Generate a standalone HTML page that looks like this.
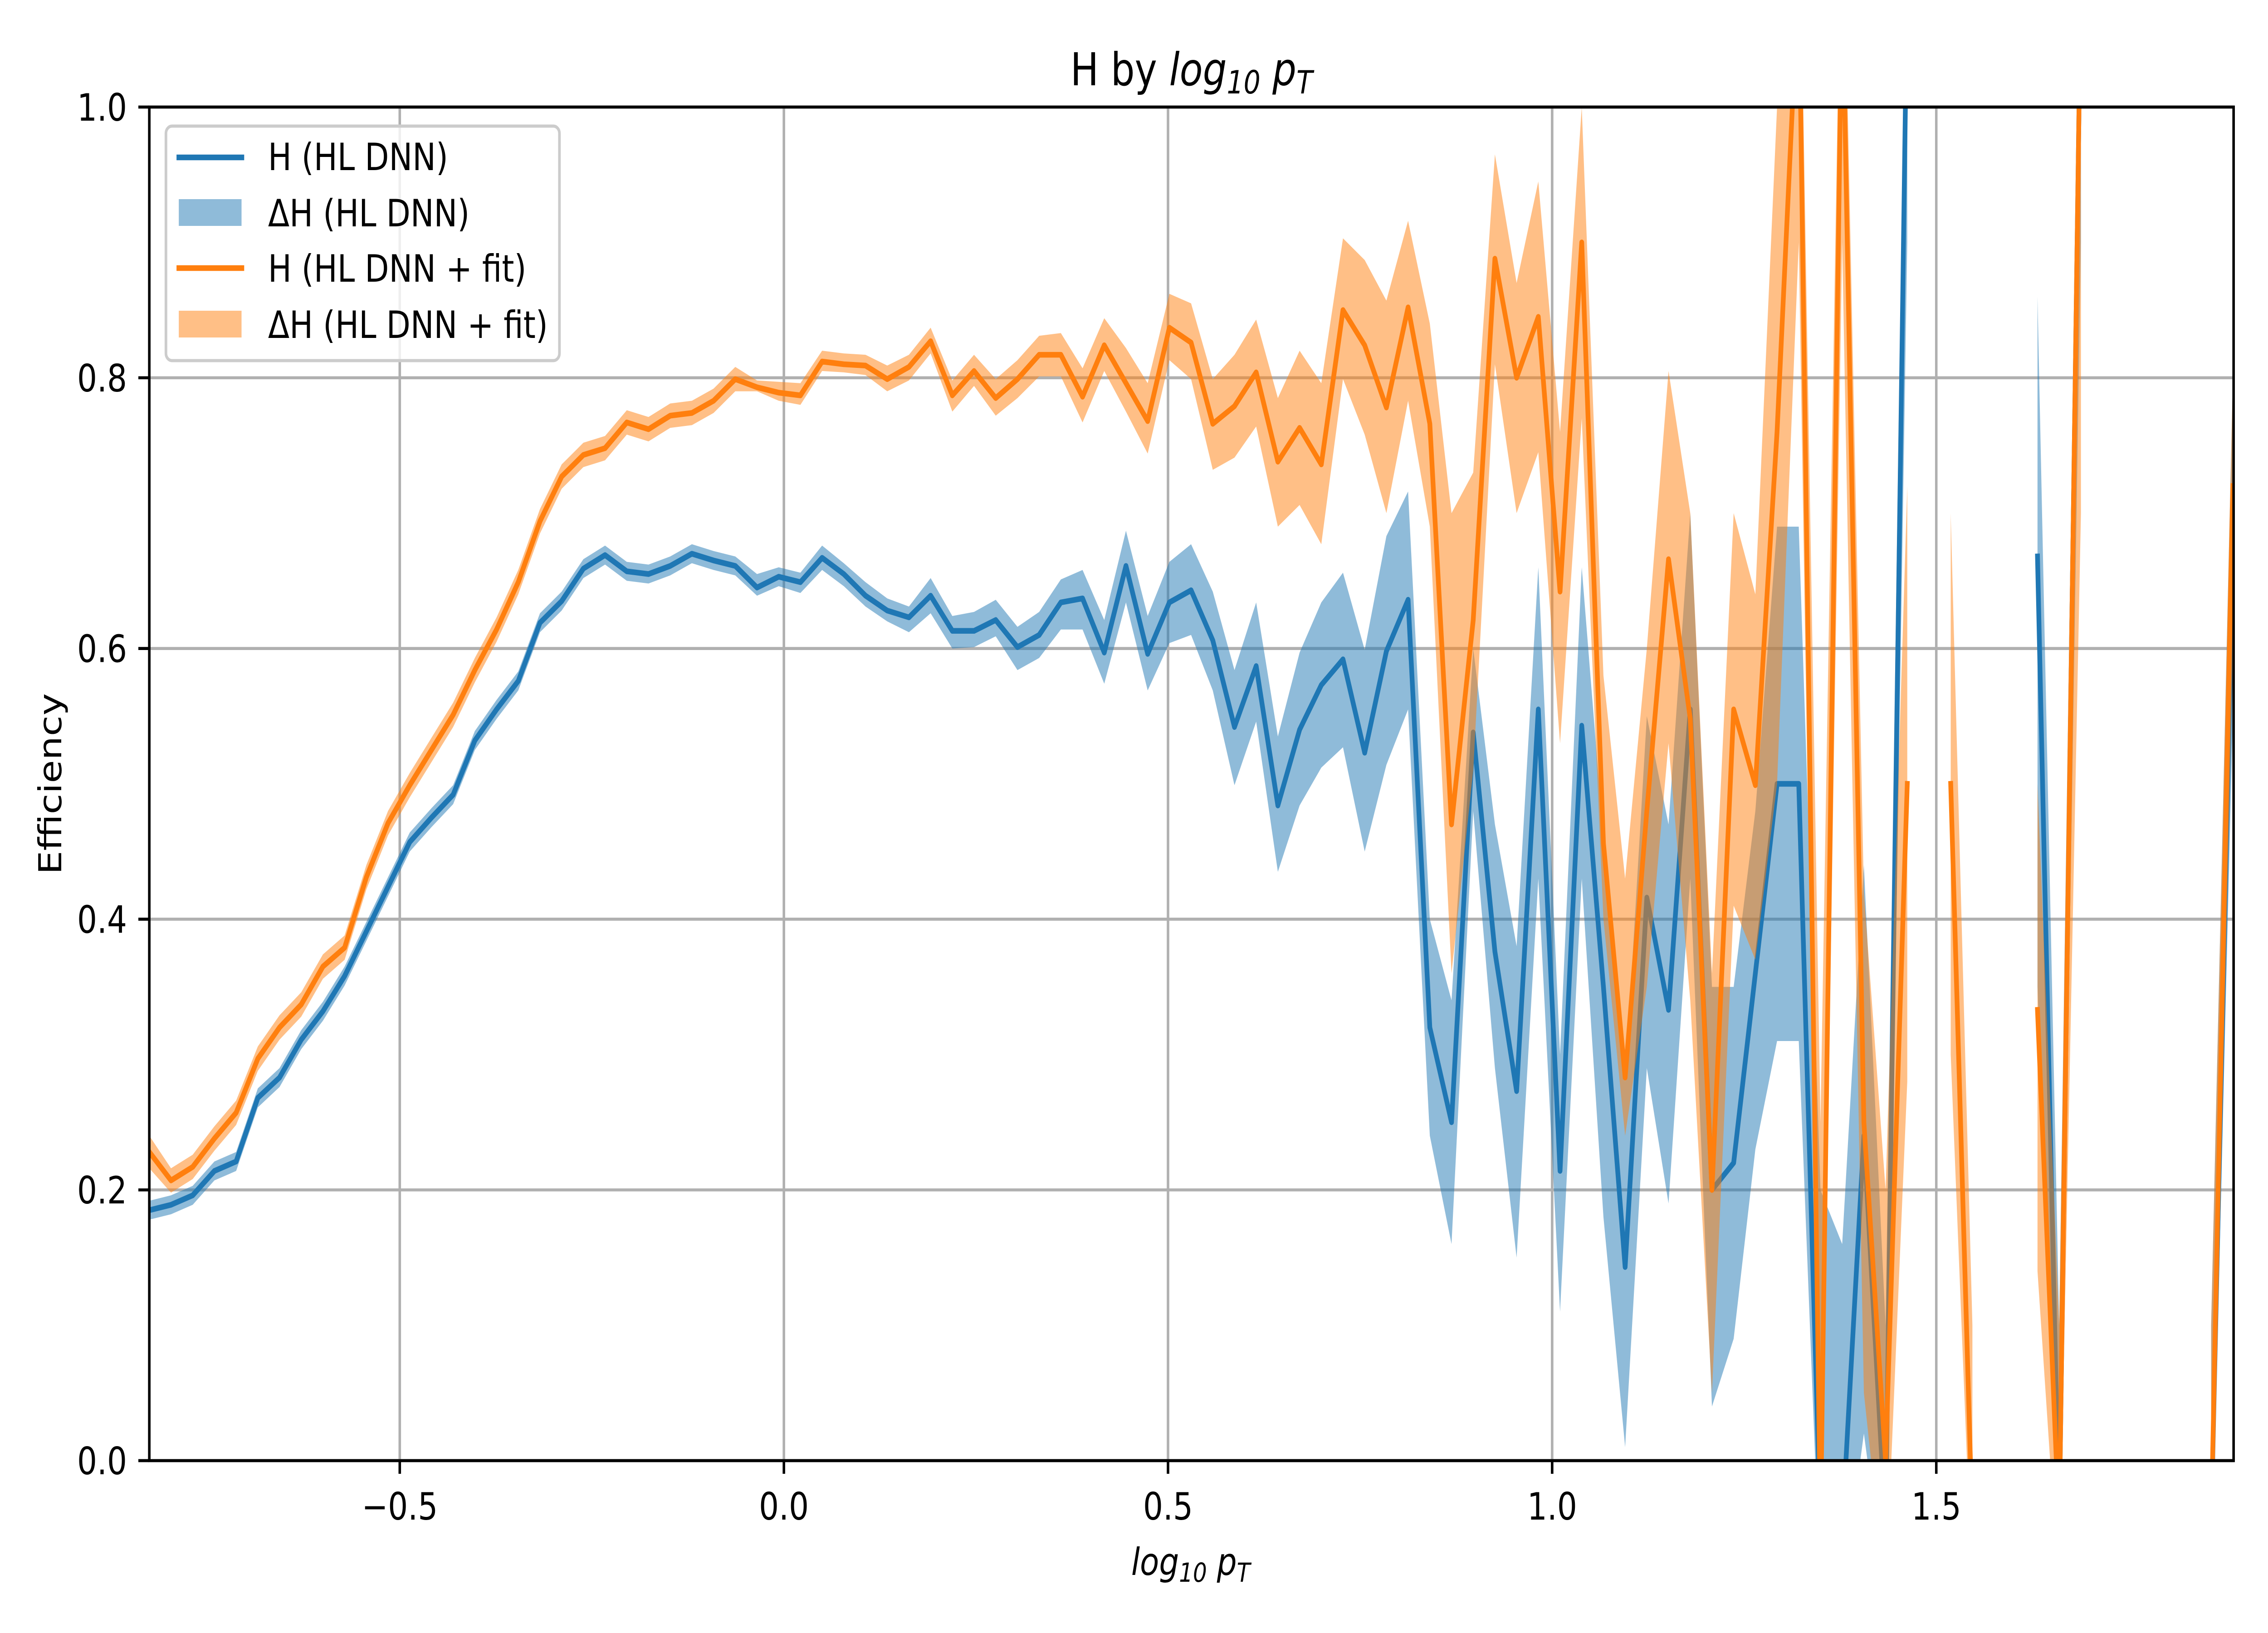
<!DOCTYPE html>
<html><head><meta charset="utf-8">
<meta name="viewport" content="width=6000, height=3600, initial-scale=1">
<style>
html,body{margin:0;padding:0;background:#fff;width:100%;height:100%;overflow:hidden;}
svg{display:block;width:100vw;height:100vh;}
text{font-family:"DejaVu Sans","Liberation Sans",sans-serif;fill:#000;}
</style></head>
<body>
<svg id="chart" viewBox="0 0 6000 3600" preserveAspectRatio="none" xmlns="http://www.w3.org/2000/svg">
<rect width="6000" height="3600" fill="#fff"/>
<defs><clipPath id="plotclip"><rect x="395" y="236" width="5514" height="2984"/></clipPath></defs>
<g id="grid"></g>
<g id="series" clip-path="url(#plotclip)"></g>
<g id="axes"></g>
<text x="3152" y="188" font-size="100" text-anchor="middle">H by <tspan font-style="italic">log</tspan><tspan font-style="italic" font-size="70" dy="18">10</tspan><tspan font-style="italic" dy="-18"> p</tspan><tspan font-style="italic" font-size="70" dy="18">T</tspan></text>
<text x="3150" y="3472" font-size="83" text-anchor="middle"><tspan font-style="italic">log</tspan><tspan font-style="italic" font-size="58" dy="15">10</tspan><tspan font-style="italic" dy="-15"> p</tspan><tspan font-style="italic" font-size="58" dy="15">T</tspan></text>
<text x="0" y="0" font-size="83" text-anchor="middle" transform="translate(162,1728) rotate(-90)">Efficiency</text>
<g>
<rect x="439" y="278" width="1041" height="517" rx="16" fill="#fff" fill-opacity="0.8" stroke="#cccccc" stroke-width="7"/>
<line x1="467" y1="347" x2="646" y2="347" stroke="#1f77b4" stroke-width="12.5"/>
<text x="709" y="375" font-size="83">H (HL DNN)</text>
<rect x="473" y="439" width="166" height="59" fill="#1f77b4" fill-opacity="0.5"/>
<text x="709" y="499" font-size="83">ΔH (HL DNN)</text>
<line x1="467" y1="591" x2="646" y2="591" stroke="#ff7f0e" stroke-width="12.5"/>
<text x="709" y="621" font-size="83">H (HL DNN + fit)</text>
<rect x="473" y="685" width="166" height="59" fill="#ff7f0e" fill-opacity="0.5"/>
<text x="709" y="745" font-size="83">ΔH (HL DNN + fit)</text>
</g>
</svg>
<script>
const xStart = -0.826;
const binWidth = 0.02825;
const nBins = 97;
const blueVal = [.185,.189,.196,.214,.221,.268,.283,.311,.332,.358,.391,.424,.457,.475,.492,.532,.555,.576,.619,.635,.659,.669,.657,.655,.661,.670,.665,.661,
 .645,.653,.649,.667,.655,.639,.628,.623,.639,.613,.613,.621,.601,.610,.634,.637,.597,.661,.596,.634,.643,.606,.542,.587,.484,.540,.573,.592,.523,.598,.636,
 .320,.250,.538,.376,.273,.555,.214,.543,.35,.143,.416,.333,.555,.200,.220,.36,.50,.50,-.05,-.05,.24,-.05,1.1,null,null,null,null,null,.668,-.05,1.1,null,null,null,null,null,-.05,.667];
const blueLo = [.178,.182,.189,.207,.214,.261,.276,.304,.325,.351,.384,.417,.450,.468,.485,.525,.548,.569,.612,.628,.652,.662,.650,.648,.654,.663,.658,.654,
 .639,.646,.641,.658,.646,.631,.620,.612,.626,.600,.601,.609,.584,.593,.614,.614,.574,.634,.569,.604,.610,.569,.499,.546,.435,.484,.512,.527,.450,.514,.555,
 .24,.16,.48,.29,.15,.43,.11,.43,.18,.01,.29,.19,.43,.04,.09,.23,.31,.31,-.1,-.1,.02,-.1,.9,null,null,null,null,null,.35,-.1,.9,null,null,null,null,null,-.1,.55];
const blueHi = [.192,.196,.203,.221,.228,.275,.290,.318,.339,.365,.398,.431,.464,.482,.499,.539,.562,.583,.626,.642,.666,.676,.664,.662,.668,.677,.672,.668,
 .655,.660,.656,.676,.663,.649,.637,.631,.652,.624,.627,.636,.616,.627,.651,.658,.621,.687,.624,.664,.677,.642,.584,.634,.535,.597,.634,.656,.599,.683,.716,
 .40,.34,.60,.47,.38,.66,.30,.66,.46,.28,.55,.47,.70,.35,.35,.48,.69,.69,.2,.16,.44,.1,1.2,null,null,null,null,null,.86,.1,1.2,null,null,null,null,null,.1,.8];
const orangeVal = [.228,.207,.217,.238,.257,.297,.320,.337,.365,.379,.431,.471,.499,.525,.551,.584,.614,.649,.694,.727,.743,.748,.767,.762,.772,.774,.783,.799,
 .793,.789,.787,.812,.810,.809,.799,.808,.827,.787,.805,.785,.799,.817,.817,.786,.824,.796,.768,.837,.826,.766,.779,.804,.738,.763,.736,.850,.824,.778,.852,
 .766,.470,.621,.888,.800,.845,.642,.900,.456,.283,.48,.666,.548,.200,.555,.499,.76,1.1,-.05,1.1,.25,.0,.50,null,.50,-.05,null,null,.333,-.05,1.1,null,null,null,null,null,-.05,.72];
const orangeLo = [.216,.198,.208,.229,.248,.288,.311,.328,.356,.370,.422,.462,.490,.516,.542,.575,.605,.640,.685,.718,.734,.739,.758,.753,.763,.765,.774,.790,
 .790,.783,.780,.805,.804,.802,.790,.798,.818,.775,.794,.772,.785,.801,.801,.767,.805,.775,.744,.813,.799,.732,.741,.764,.690,.706,.677,.799,.758,.700,.783,
 .69,.36,.51,.81,.70,.745,.53,.77,.40,.24,.35,.53,.34,.05,.41,.37,.5,.9,-.1,.9,.05,-.1,.28,null,.30,-.1,null,null,.14,-.1,.7,null,null,null,null,null,-.1,.60];
const orangeHi = [.240,.216,.226,.247,.266,.306,.329,.346,.374,.388,.440,.480,.508,.534,.560,.593,.623,.658,.703,.736,.752,.757,.776,.771,.781,.783,.792,.808,
 .798,.797,.796,.820,.818,.817,.809,.817,.837,.798,.817,.799,.813,.831,.833,.807,.844,.822,.796,.862,.855,.799,.817,.843,.785,.820,.796,.903,.887,.857,.916,
 .84,.70,.73,.965,.87,.945,.76,1.0,.58,.43,.6,.805,.70,.36,.70,.64,1.0,1.2,.25,1.2,.42,.2,.72,null,.70,.1,null,null,.50,.1,1.2,null,null,null,null,null,.1,.8];
const xTicks = [-0.5, 0.0, 0.5, 1.0, 1.5];
const xTickLabels = ["\u22120.5","0.0","0.5","1.0","1.5"];
const yTicks = [0.0, 0.2, 0.4, 0.6, 0.8, 1.0];
const yTickLabels = ["0.0","0.2","0.4","0.6","0.8","1.0"];

const PL=395, PR=5909, PT=236, PB=3220;
const xMin=-0.826, xMax=1.887;
function sx(v){return PL+(v-xMin)/(xMax-xMin)*(PR-PL);}
function sy(v){return PB-(v-0)/(1-0)*(PB-PT);}
const NS="http://www.w3.org/2000/svg";
function mk(tag,attrs,parent){const e=document.createElementNS(NS,tag);for(const k in attrs)e.setAttribute(k,attrs[k]);parent.appendChild(e);return e;}
const xs=[];for(let i=0;i<nBins;i++)xs.push(xStart+i*binWidth);

const grid=document.getElementById('grid'), axes=document.getElementById('axes'), series=document.getElementById('series');
xTicks.forEach((t,i)=>{
  const g=mk('line',{x1:sx(t),x2:sx(t),y1:PT,y2:PB,stroke:'#b0b0b0','stroke-width':6.7},grid);
  
  
  const tk=mk('line',{x1:sx(t),x2:sx(t),y1:PB,y2:PB+29,stroke:'#000','stroke-width':6.7},axes);
  
  
  const tl=mk('text',{x:sx(t),y:3350,'font-size':83,'text-anchor':'middle'},axes);
  tl.textContent=xTickLabels[i];
  
  
});
yTicks.forEach((t,i)=>{
  const g=mk('line',{x1:PL,x2:PR,y1:sy(t),y2:sy(t),stroke:'#b0b0b0','stroke-width':6.7},grid);
  
  
  const tk=mk('line',{x1:PL-29,x2:PL,y1:sy(t),y2:sy(t),stroke:'#000','stroke-width':6.7},axes);
  
  
  const tl=mk('text',{x:336,y:sy(t)+30,'font-size':83,'text-anchor':'end'},axes);
  tl.textContent=yTickLabels[i];
  
  
});
const frame=mk('rect',{x:PL,y:PT,width:PR-PL,height:PB-PT,fill:'none',stroke:'#000','stroke-width':6.7},axes);



function segments(arrs){
  const segs=[];let cur=[];
  for(let i=0;i<nBins;i++){
    if(arrs.every(a=>a[i]!==null&&a[i]!==undefined)){cur.push(i);}else{if(cur.length)segs.push(cur);cur=[];}
  }
  if(cur.length)segs.push(cur);return segs;
}
function drawLine(vals,color,name){
  segments([vals]).forEach(seg=>{
    let d='';seg.forEach((i,k)=>{d+=(k?'L':'M')+sx(xs[i]).toFixed(1)+','+sy(vals[i]).toFixed(1);});
    if(seg.length===1) d+='L'+(sx(xs[seg[0]])+0.1).toFixed(1)+','+sy(vals[seg[0]]).toFixed(1);
    const p=mk('path',{d:d,fill:'none',stroke:color,'stroke-width':12.5,'stroke-linejoin':'round','stroke-linecap':'square'},series);
    
    
  });
}
function drawBand(lo,hi,color,name){
  segments([lo,hi]).forEach(seg=>{
    let d='';seg.forEach((i,k)=>{d+=(k?'L':'M')+sx(xs[i]).toFixed(1)+','+sy(hi[i]).toFixed(1);});
    for(let k=seg.length-1;k>=0;k--){const i=seg[k];d+='L'+sx(xs[i]).toFixed(1)+','+sy(lo[i]).toFixed(1);}
    d+='Z';
    const p=mk('path',{d:d,fill:color,'fill-opacity':0.5,stroke:'none'},series);
    
    
  });
}
drawLine(blueVal,'#1f77b4','h-hl-dnn-line');
drawBand(blueLo,blueHi,'#1f77b4','dh-hl-dnn-band');
drawLine(orangeVal,'#ff7f0e','h-fit-line');
drawBand(orangeLo,orangeHi,'#ff7f0e','dh-fit-band');
</script>
</body></html>
